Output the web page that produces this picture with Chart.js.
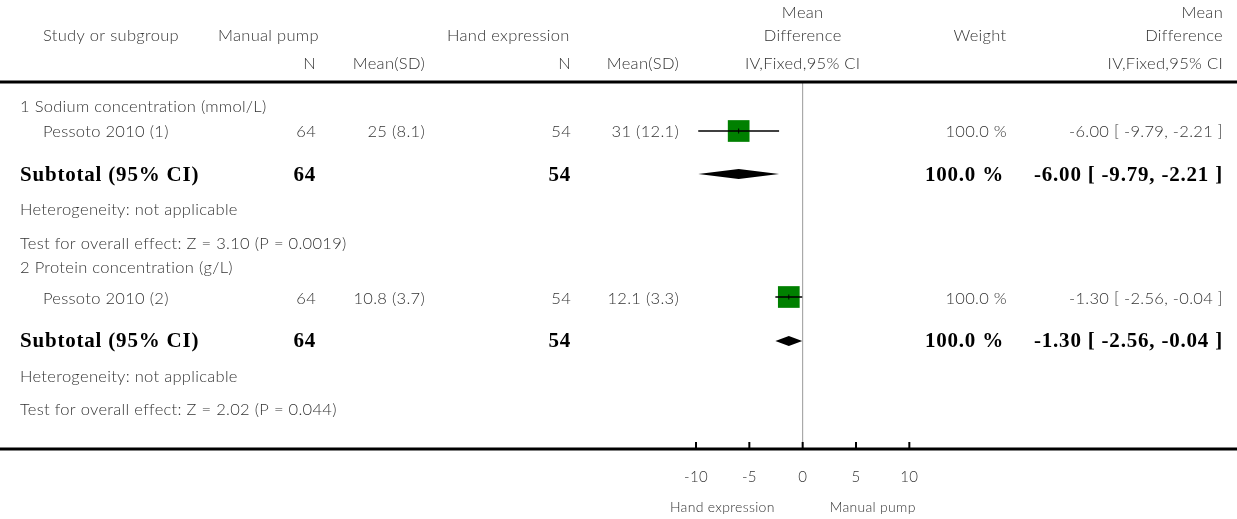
<!DOCTYPE html>
<html>
<head>
<meta charset="utf-8">
<script src="https://cdn.jsdelivr.net/npm/chart.js@4"></script>
<style>
  html, body { margin: 0; padding: 0; background: #ffffff; }
  canvas { display: block; }
</style>
</head>
<body>
<canvas id="c" width="1237" height="519"></canvas>
<script>
// ---------- data ----------
const subgroupTitles = ['1 Sodium concentration (mmol/L)', '2 Protein concentration (g/L)'];
const studies = ['Pessoto 2010 (1)', 'Pessoto 2010 (2)'];
const nPump = [64, 64];
const meanSdPump = ['25 (8.1)', '10.8 (3.7)'];
const nHand = [54, 54];
const meanSdHand = ['31 (12.1)', '12.1 (3.3)'];
const meanDiff = [-6.00, -1.30];
const ciLow = [-9.79, -2.56];
const ciHigh = [-2.21, -0.04];
const weights = [100.0, 100.0];
const subtotalN1 = [64, 64];
const subtotalN2 = [54, 54];
const subtotalMd = [-6.00, -1.30];
const subtotalLow = [-9.79, -2.56];
const subtotalHigh = [-2.21, -0.04];
const subtotalWeight = [100.0, 100.0];
const heterogeneity = ['Heterogeneity: not applicable', 'Heterogeneity: not applicable'];
const overallEffect = ['Test for overall effect: Z = 3.10 (P = 0.0019)', 'Test for overall effect: Z = 2.02 (P = 0.044)'];
const tickValues = [-10, -5, 0, 5, 10];
const favourLabels = ['Hand expression', 'Manual pump'];

// ---------- layout (row positions on the y scale) ----------
const ROW = {
  title: [107, 268],
  study: [132, 299],
  studyMark: [131, 297],
  subtotal: [176, 342],
  subtotalMark: [174, 341],
  het: [210, 377],
  test: [244, 410]
};
const HEAD_Y = [13, 36, 64];
const HEADER_LINE = 82, AXIS_LINE = 449, TICK_LABEL_Y = 477, FAVOUR_Y = 507;
const W = 1237, H = 519;

const NORMAL = '300 16.5px Lato, "Open Sans", sans-serif';
const TICK_FONT = '300 15px Lato, "Open Sans", sans-serif';
const FAVOUR_FONT = '300 14px Lato, "Open Sans", sans-serif';
const NORMAL_SPACING = '0.3px';
const BOLD = 'bold 21px "Liberation Serif", "Times New Roman", serif';
const BOLD_SPACING = '0.8px';
const TEXT_COL = '#333333';

function fmtCI(m, l, h) { return m.toFixed(2) + ' [ ' + l.toFixed(2) + ', ' + h.toFixed(2) + ' ]'; }

const squareSide = w => 21.7 * Math.sqrt(w / 100);

const forestPlugin = {
  id: 'forest',
  afterDatasetsDraw(chart) {
    const ctx = chart.ctx, xs = chart.scales.x, ys = chart.scales.y;
    ctx.save();
    for (let i = 0; i < studies.length; i++) {
      const y = ys.getPixelForValue(ROW.studyMark[i]);
      ctx.strokeStyle = '#000';
      ctx.lineWidth = 1.5;
      ctx.beginPath();
      ctx.moveTo(xs.getPixelForValue(ciLow[i]), y);
      ctx.lineTo(xs.getPixelForValue(ciHigh[i]), y);
      ctx.stroke();
      const cx = xs.getPixelForValue(meanDiff[i]);
      ctx.lineWidth = 1;
      ctx.beginPath();
      ctx.moveTo(cx, y - 2.5);
      ctx.lineTo(cx, y + 2.5);
      ctx.stroke();
    }
    for (let i = 0; i < subtotalMd.length; i++) {
      const y = ys.getPixelForValue(ROW.subtotalMark[i]);
      ctx.fillStyle = '#000';
      ctx.beginPath();
      ctx.moveTo(xs.getPixelForValue(subtotalLow[i]), y);
      ctx.lineTo(xs.getPixelForValue(subtotalMd[i]), y - 5);
      ctx.lineTo(xs.getPixelForValue(subtotalHigh[i]), y);
      ctx.lineTo(xs.getPixelForValue(subtotalMd[i]), y + 5);
      ctx.closePath();
      ctx.fill();
    }
    ctx.restore();
  },
  beforeDatasetsDraw(chart) {
    const ctx = chart.ctx, xs = chart.scales.x, ys = chart.scales.y;
    ctx.save();
    const x0 = xs.getPixelForValue(0);
    ctx.strokeStyle = '#999999';
    ctx.lineWidth = 1;
    ctx.beginPath();
    ctx.moveTo(x0, ys.getPixelForValue(HEADER_LINE));
    ctx.lineTo(x0, ys.getPixelForValue(AXIS_LINE));
    ctx.stroke();
    ctx.strokeStyle = '#000';
    ctx.lineWidth = 3;
    ctx.beginPath();
    ctx.moveTo(0, ys.getPixelForValue(HEADER_LINE)); ctx.lineTo(W, ys.getPixelForValue(HEADER_LINE));
    ctx.moveTo(0, ys.getPixelForValue(AXIS_LINE)); ctx.lineTo(W, ys.getPixelForValue(AXIS_LINE));
    ctx.stroke();
    ctx.lineWidth = 2;
    ctx.beginPath();
    tickValues.forEach(v => {
      const x = xs.getPixelForValue(v);
      ctx.moveTo(x, ys.getPixelForValue(AXIS_LINE) - 7);
      ctx.lineTo(x, ys.getPixelForValue(AXIS_LINE));
    });
    ctx.stroke();
    ctx.restore();
  },
  afterDraw(chart) {
    const ctx = chart.ctx, xs = chart.scales.x, ys = chart.scales.y;
    const x0 = xs.getPixelForValue(0);
    ctx.save();
    ctx.textBaseline = 'middle';
    const t = (s, x, y, align, font, color, spacing) => {
      ctx.font = font || NORMAL;
      ctx.fillStyle = color || TEXT_COL;
      ctx.textAlign = align || 'left';
      ctx.letterSpacing = spacing || NORMAL_SPACING;
      ctx.fillText(s, x, ys.getPixelForValue(y));
    };
    const b = (s, x, y, align) => t(s, x, y, align, BOLD, '#000', BOLD_SPACING);
    t('Mean', x0, HEAD_Y[0], 'center');
    t('Mean', 1223, HEAD_Y[0], 'right');
    t('Study or subgroup', 43, HEAD_Y[1]);
    t('Manual pump', 218, HEAD_Y[1]);
    t('Hand expression', 447, HEAD_Y[1]);
    t('Difference', x0, HEAD_Y[1], 'center');
    t('Weight', 980, HEAD_Y[1], 'center');
    t('Difference', 1223, HEAD_Y[1], 'right');
    t('N', 316, HEAD_Y[2], 'right');
    t('Mean(SD)', 425, HEAD_Y[2], 'right');
    t('N', 571, HEAD_Y[2], 'right');
    t('Mean(SD)', 679, HEAD_Y[2], 'right');
    t('IV,Fixed,95% CI', x0, HEAD_Y[2], 'center');
    t('IV,Fixed,95% CI', 1223, HEAD_Y[2], 'right');
    for (let i = 0; i < studies.length; i++) {
      t(subgroupTitles[i], 20, ROW.title[i]);
      t(studies[i], 43, ROW.study[i]);
      t(String(nPump[i]), 316, ROW.study[i], 'right');
      t(meanSdPump[i], 425, ROW.study[i], 'right');
      t(String(nHand[i]), 571, ROW.study[i], 'right');
      t(meanSdHand[i], 679, ROW.study[i], 'right');
      t(weights[i].toFixed(1) + ' %', 1007, ROW.study[i], 'right');
      t(fmtCI(meanDiff[i], ciLow[i], ciHigh[i]), 1223, ROW.study[i], 'right');
      b('Subtotal (95% CI)', 20, ROW.subtotal[i], 'left');
      b(String(subtotalN1[i]), 316, ROW.subtotal[i], 'right');
      b(String(subtotalN2[i]), 571, ROW.subtotal[i], 'right');
      b(subtotalWeight[i].toFixed(1) + ' %', 1004, ROW.subtotal[i], 'right');
      b(fmtCI(subtotalMd[i], subtotalLow[i], subtotalHigh[i]), 1223, ROW.subtotal[i], 'right');
      t(heterogeneity[i], 20, ROW.het[i]);
      t(overallEffect[i], 20, ROW.test[i]);
    }
    tickValues.forEach(v => t(String(v), xs.getPixelForValue(v), TICK_LABEL_Y, 'center', TICK_FONT));
    t(favourLabels[0], x0 - 28, FAVOUR_Y, 'right', FAVOUR_FONT);
    t(favourLabels[1], x0 + 27, FAVOUR_Y, 'left', FAVOUR_FONT);
    ctx.restore();
  }
};

const studyPoints = meanDiff.map((m, i) => ({ x: m, y: ROW.studyMark[i] }));

new Chart(document.getElementById('c'), {
  type: 'scatter',
  data: {
    datasets: [{
      data: studyPoints,
      pointStyle: 'rect',
      pointRadius: weights.map(w => squareSide(w) / Math.SQRT2),
      pointHoverRadius: weights.map(w => squareSide(w) / Math.SQRT2),
      backgroundColor: '#008000',
      borderColor: '#008000',
      borderWidth: 0,
      clip: false
    }]
  },
  options: {
    responsive: false,
    animation: false,
    devicePixelRatio: 1,
    layout: { autoPadding: false, padding: { left: 696, right: W - 909.33, top: 0, bottom: 0 } },
    plugins: { legend: { display: false }, tooltip: { enabled: false } },
    events: [],
    scales: {
      x: { type: 'linear', min: -10, max: 10, display: false },
      y: { type: 'linear', min: 0, max: H, reverse: true, display: false }
    }
  },
  plugins: [forestPlugin]
});
</script>
</body>
</html>
